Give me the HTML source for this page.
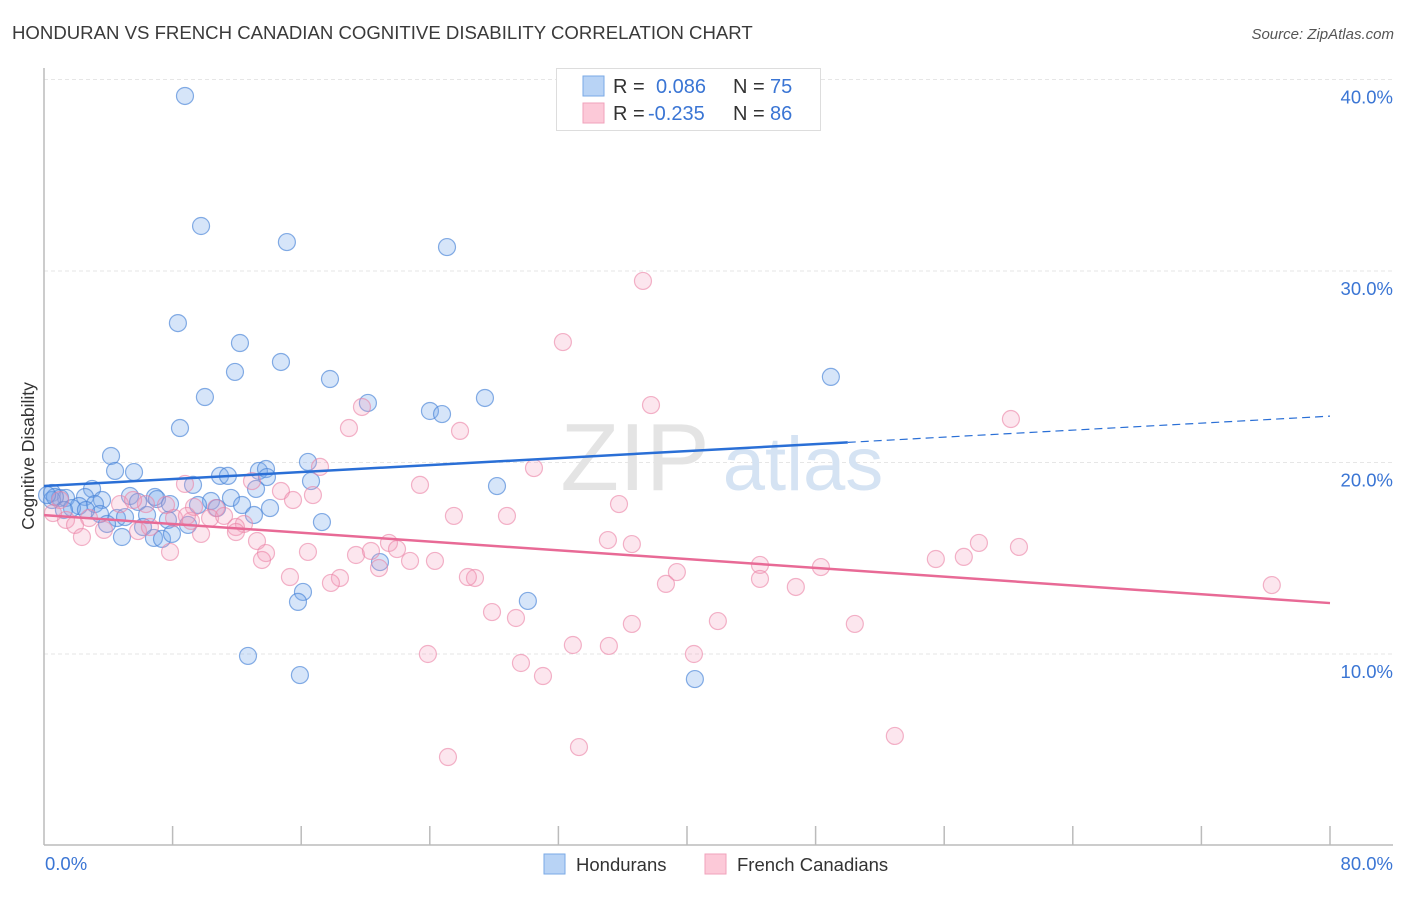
<!DOCTYPE html>
<html><head><meta charset="utf-8"><style>
body{margin:0;background:#fff;font-family:"Liberation Sans",sans-serif;}
svg text{font-family:"Liberation Sans",sans-serif;}
</style></head><body>
<svg id="chart" width="1406" height="892" xmlns="http://www.w3.org/2000/svg">
<text x="12" y="39" font-size="18.6" fill="#3a3a3a">HONDURAN VS FRENCH CANADIAN COGNITIVE DISABILITY CORRELATION CHART</text>
<text x="1394" y="39" font-size="15" fill="#555" font-style="italic" text-anchor="end">Source: ZipAtlas.com</text>
<text transform="translate(34,456) rotate(-90)" font-size="17.5" fill="#333" text-anchor="middle">Cognitive Disability</text>
<g id="grid"></g>
<g>
<text x="635" y="490" font-size="96" fill="#e4e4e4" text-anchor="middle" font-family="Liberation Serif">ZIP</text>
<text x="803" y="490" font-size="76" fill="#d5e3f3" text-anchor="middle">atlas</text>
</g>
<g id="axes"></g>
<g id="pts"></g>
<g id="trends"></g>
<g>
<rect x="556.5" y="68.5" width="264" height="62" fill="#fff" stroke="#ddd"/>
<rect x="583" y="76" width="21" height="20" fill="#b8d3f5" stroke="#7aa9e6"/>
<rect x="583" y="103" width="21" height="20" fill="#fcc9d8" stroke="#f0a2bb"/>
<text x="613" y="93" font-size="20" fill="#333">R =</text>
<text x="656" y="93" font-size="20" fill="#3a75d4">0.086</text>
<text x="733" y="93" font-size="20" fill="#333">N =</text>
<text x="770" y="93" font-size="20" fill="#3a75d4">75</text>
<text x="613" y="120" font-size="20" fill="#333">R =</text>
<text x="648" y="120" font-size="20" fill="#3a75d4">-0.235</text>
<text x="733" y="120" font-size="20" fill="#333">N =</text>
<text x="770" y="120" font-size="20" fill="#3a75d4">86</text>
</g>
<g>
<rect x="544" y="854" width="21" height="20" fill="#b8d3f5" stroke="#7aa9e6"/>
<text x="576" y="871" font-size="18.5" fill="#333">Hondurans</text>
<rect x="705" y="854" width="21" height="20" fill="#fcc9d8" stroke="#f0a2bb"/>
<text x="737" y="871" font-size="18.5" fill="#333">French Canadians</text>
</g>
</svg>
<script>
const yTicks=[10,20,30,40];
const yTickLabels=["10.0%","20.0%","30.0%","40.0%"];
const xTickLabels=["0.0%","80.0%"];
const blueX=[8.77,9.77,15.11,25.07,8.33,12.19,14.74,11.88,17.79,48.95,10.01,20.15,27.43,24.01,24.76,8.46,4.17,16.42,4.42,5.60,10.95,11.44,13.37,13.81,13.87,16.61,9.27,28.18,13.19,2.99,0.50,1.00,1.37,2.55,3.61,5.35,6.90,7.03,10.39,11.63,14.06,12.32,2.18,1.74,3.17,5.85,7.84,9.58,10.76,3.48,4.54,5.04,6.41,7.71,13.06,17.29,3.92,6.16,8.96,4.85,6.84,7.34,7.96,16.11,15.80,30.10,20.90,12.69,15.92,40.49,0.50,0.68,1.24,2.61,0.19];
const blueY=[39.14,32.35,31.51,31.25,27.28,26.24,25.25,24.73,24.36,24.47,23.42,23.11,23.37,22.69,22.53,21.80,20.34,20.03,19.56,19.50,19.30,19.30,19.56,19.66,19.24,19.03,18.83,18.77,18.62,18.62,18.41,18.15,18.15,18.20,18.04,18.25,18.20,18.09,17.99,18.15,17.62,17.78,17.73,17.62,17.83,17.94,17.83,17.78,17.62,17.31,17.10,17.15,17.26,17.00,17.26,16.89,16.79,16.63,16.74,16.11,16.06,16.01,16.27,13.24,12.72,12.77,14.80,9.90,8.90,8.69,18.04,18.20,17.52,17.52,18.30];
const pinkX=[37.26,32.28,60.15,37.76,19.78,18.97,25.88,30.48,17.17,23.39,12.94,14.74,16.73,35.77,8.77,6.34,4.73,7.59,10.70,10.33,11.20,12.44,25.50,28.80,2.80,1.37,0.56,1.93,3.73,5.85,2.36,9.14,9.77,11.94,13.25,8.09,9.33,35.08,36.57,58.16,60.65,57.22,55.48,21.46,19.41,20.34,21.96,22.77,24.32,16.42,13.81,7.84,20.84,15.30,18.41,17.85,26.81,26.37,39.37,44.54,48.33,44.54,38.69,46.77,76.38,27.87,29.36,36.57,41.92,50.44,32.90,35.14,23.88,40.43,29.67,31.04,33.28,25.13,52.93,1.00,6.59,11.94,13.56,15.49,8.89,5.54];
const pinkY=[29.48,26.29,22.27,23.00,22.90,21.80,21.65,19.71,19.77,18.83,19.03,18.51,18.30,17.83,18.88,17.83,17.83,17.78,17.62,17.10,17.21,16.79,17.21,17.21,17.10,17.00,17.36,16.74,16.48,16.42,16.11,16.95,16.27,16.63,15.90,17.10,17.68,15.95,15.74,15.80,15.59,15.07,14.96,15.80,15.17,15.38,15.48,14.86,14.86,15.33,15.27,15.33,14.49,14.02,13.97,13.71,13.97,14.02,14.28,14.65,14.54,13.92,13.66,13.50,13.60,12.19,11.88,11.57,11.72,11.57,10.47,10.42,10.00,10.00,9.53,8.85,5.14,4.62,5.72,18.04,16.63,16.37,14.91,18.04,17.21,18.04];
const blueTrend=[18.77,22.42];
const blueSolidEnd=50;
const pinkTrend=[17.25,12.66];
const NS="http://www.w3.org/2000/svg";
const X=v=>44+v/80*1286;
const Y=v=>845.5-v*19.15;
function mk(tag,attrs,parent){const e=document.createElementNS(NS,tag);for(const k in attrs)e.setAttribute(k,attrs[k]);parent.appendChild(e);return e;}
const grid=document.getElementById('grid'),axes=document.getElementById('axes'),pts=document.getElementById('pts'),tr=document.getElementById('trends');
yTicks.forEach((t,i)=>{
 const l=mk('line',{x1:44,x2:1393,y1:Y(t),y2:Y(t),stroke:'#e6e6e6','stroke-dasharray':'4,3'},grid);
 
 
 const tx=mk('text',{x:1393,y:Y(t)+24,'font-size':18.5,fill:'#3a75d4','text-anchor':'end'},axes);
 tx.textContent=yTickLabels[i];
 
 
});
let a=mk('line',{x1:44,x2:44,y1:68,y2:845,stroke:'#bbb','stroke-width':1.5},axes);


a=mk('line',{x1:44,x2:1393,y1:845,y2:845,stroke:'#bbb','stroke-width':1.5},axes);


for(let i=1;i<=10;i++){
 const t=mk('line',{x1:X(i*8),x2:X(i*8),y1:826,y2:845,stroke:'#bbb','stroke-width':1.5},axes);
 
 
}
let t0=mk('text',{x:45,y:870,'font-size':18.5,fill:'#3a75d4'},axes);t0.textContent=xTickLabels[0];


let t1=mk('text',{x:1393,y:870,'font-size':18.5,fill:'#3a75d4','text-anchor':'end'},axes);t1.textContent=xTickLabels[1];


blueX.forEach((x,i)=>{
 const c=mk('circle',{cx:X(x),cy:Y(blueY[i]),r:8.5,fill:'rgba(120,170,235,0.3)',stroke:'rgba(70,130,215,0.65)','stroke-width':1.2},pts);
 
 
});
pinkX.forEach((x,i)=>{
 const c=mk('circle',{cx:X(x),cy:Y(pinkY[i]),r:8.5,fill:'rgba(245,160,190,0.26)',stroke:'rgba(235,130,165,0.6)','stroke-width':1.2},pts);
 
 
});
const by=x=>blueTrend[0]+(blueTrend[1]-blueTrend[0])*x/80;
let l=mk('line',{x1:X(0),y1:Y(by(0)),x2:X(blueSolidEnd),y2:Y(by(blueSolidEnd)),stroke:'#2a6fd6','stroke-width':2.5},tr);


l=mk('line',{x1:X(blueSolidEnd),y1:Y(by(blueSolidEnd)),x2:X(80),y2:Y(by(80)),stroke:'#2a6fd6','stroke-width':1.2,'stroke-dasharray':'8,5'},tr);


l=mk('line',{x1:X(0),y1:Y(pinkTrend[0]),x2:X(80),y2:Y(pinkTrend[1]),stroke:'#e86a96','stroke-width':2.5},tr);


</script>
</body></html>
